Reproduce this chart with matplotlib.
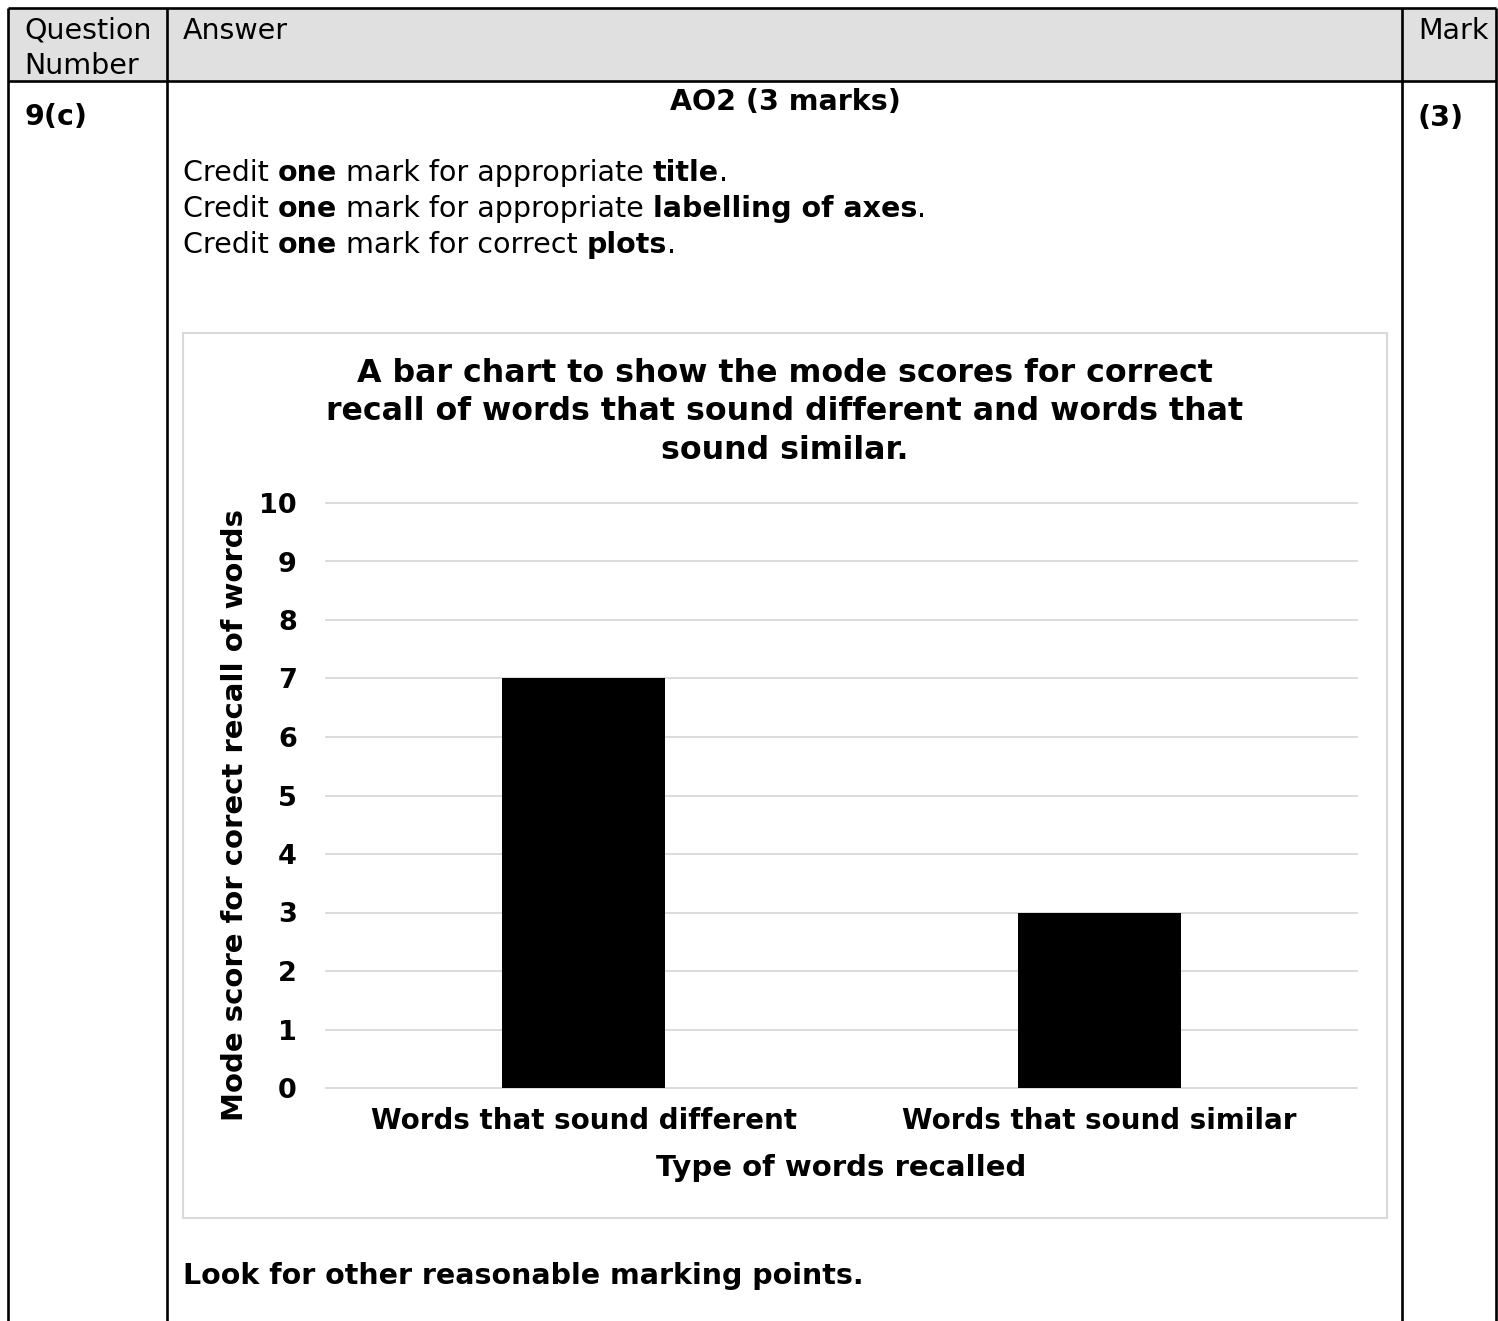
import matplotlib
matplotlib.use("Agg")
import matplotlib.pyplot as plt
import matplotlib.patches as mpatches

plt.rcParams["font.family"] = ["DejaVu Sans"]

# ── Data ──────────────────────────────────────────────────────────────────────
categories = ["Words that sound different", "Words that sound similar"]
mode_scores = [7, 3]
y_ticks = list(range(0, 11))

title = ("A bar chart to show the mode scores for correct\n"
         "recall of words that sound different and words that\n"
         "sound similar.")
x_label = "Type of words recalled"
y_label = "Mode score for corect recall of words"

credit_lines = [
    [("Credit ", False), ("one", True), (" mark for appropriate ", False), ("title", True), (".", False)],
    [("Credit ", False), ("one", True), (" mark for appropriate ", False), ("labelling of axes", True), (".", False)],
    [("Credit ", False), ("one", True), (" mark for correct ", False), ("plots", True), (".", False)],
]

W, H = 1498, 1321
fig = plt.figure(figsize=(W / 100, H / 100), dpi=100)
fig.patch.set_facecolor("white")

# overlay in pixel coordinates (y down)
ov = fig.add_axes([0, 0, 1, 1])
ov.set_xlim(0, W)
ov.set_ylim(H, 0)
ov.axis("off")

BODY = 20.5
LW = 1.9

# ── Table ─────────────────────────────────────────────────────────────────────
ov.add_patch(mpatches.Rectangle((8, 8), 1488, 73, facecolor="#e0e0e0", edgecolor="none"))
for x in [8, 167, 1402, 1496]:
    ov.plot([x, x], [8, H], color="black", lw=LW, solid_capstyle="butt")
for y in [8, 81]:
    ov.plot([8, 1496], [y, y], color="black", lw=LW, solid_capstyle="butt")

ov.text(24, 39, "Question", fontsize=BODY, va="baseline")
ov.text(24, 74, "Number", fontsize=BODY, va="baseline")
ov.text(183, 39, "Answer", fontsize=BODY, va="baseline")
ov.text(1418, 39, "Mark", fontsize=BODY, va="baseline")

ov.text(24, 117, "9(c)", fontsize=BODY, fontweight="bold", va="center")
ov.text(1418, 118, "(3)", fontsize=BODY, fontweight="bold", va="center")
ov.text(785, 102, "AO2 (3 marks)", fontsize=BODY, fontweight="bold", va="center", ha="center")

renderer = fig.canvas.get_renderer()


def rich_line(x, y, pieces):
    """Place regular/bold text pieces one after another on one line."""
    for txt, bold in pieces:
        t = ov.text(x, y, txt, fontsize=BODY, va="center",
                    fontweight="bold" if bold else "normal")
        x += t.get_window_extent(renderer).width


for i, pieces in enumerate(credit_lines):
    rich_line(183, 173 + 36 * i, pieces)

ov.text(183, 1276, "Look for other reasonable marking points.", fontsize=BODY,
        fontweight="bold", va="center")

# chart frame
ov.add_patch(mpatches.Rectangle((183, 333), 1204, 885, facecolor="none",
                                edgecolor="#d9d9d9", lw=1.5))

# ── Chart ─────────────────────────────────────────────────────────────────────
ax_l, ax_r, ax_t, ax_b = 326, 1357, 503, 1088
ax = fig.add_axes([ax_l / W, 1 - ax_b / H, (ax_r - ax_l) / W, (ax_b - ax_t) / H])
ax.set_facecolor("none")

xpos = range(len(categories))
ax.bar(xpos, mode_scores, width=0.316, color="black", zorder=3)
ax.set_xlim(-0.5, len(categories) - 0.5)
ax.set_ylim(0, 10)
ax.set_yticks(y_ticks)
ax.set_xticks(list(xpos))
ax.set_xticklabels(categories)
ax.tick_params(axis="y", length=0, labelsize=19.5, pad=21)
ax.tick_params(axis="x", length=0, labelsize=20, pad=14)
for lab in ax.get_xticklabels() + ax.get_yticklabels():
    lab.set_fontweight("bold")

ax.grid(axis="y", color="#d9d9d9", lw=1.3, zorder=0)
for ln in ax.get_ygridlines():
    ln.set_clip_on(False)
ax.set_axisbelow(True)
for s in ax.spines.values():
    s.set_visible(False)

ax.set_xlabel(x_label, fontsize=21, fontweight="bold", va="center")
ax.xaxis.set_label_coords(0.5, -0.137)
ax.set_ylabel(y_label, fontsize=21, fontweight="bold", va="center")
ax.yaxis.set_label_coords(-0.088, 0.467)

ax.text(0.445, 1.156, title, transform=ax.transAxes, ha="center", va="center",
        fontsize=22.8, fontweight="bold", linespacing=1.32)

fig.savefig("out.png", dpi=100)
